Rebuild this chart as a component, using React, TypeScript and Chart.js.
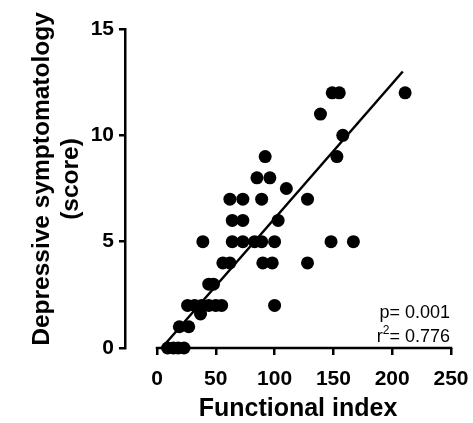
import React, { useEffect, useRef } from "react";
import { Chart, registerables } from "chart.js";

Chart.register(...registerables);

// Scatter data: functional index (x) vs depressive symptomatology score (y)
const functionalIndex = [
  9, 14, 18, 23,
  19, 27,
  37,
  26, 32, 38, 44, 50, 55, 100,
  44, 48,
  56, 62, 90, 98, 128,
  39, 64, 73, 83, 89, 100, 148, 167,
  64, 73, 103,
  62, 73, 89, 128,
  110,
  85, 96,
  92, 153,
  158,
  139,
  149, 155, 211,
];
const depressiveScore = [
  0, 0, 0, 0,
  1, 1,
  1.6,
  2, 2, 2, 2, 2, 2, 2,
  3, 3,
  4, 4, 4, 4, 4,
  5, 5, 5, 5, 5, 5, 5, 5,
  6, 6, 6,
  7, 7, 7, 7,
  7.5,
  8, 8,
  9, 9,
  10,
  11,
  12, 12, 12,
];

// Regression line end points
const fitX = [4, 209];
const fitY = [0, 13];

const xTicks = [0, 50, 100, 150, 200, 250];
const yTicks = [0, 5, 10, 15];
const xTitle = "Functional index";
const yTitle = ["Depressive symptomatology", "(score)"];
const pText = "p= 0.001";
const r2Value = "= 0.776";

const FONT = '"Liberation Sans", Arial, Helvetica, sans-serif';

export default function App() {
  const ref = useRef<HTMLCanvasElement>(null);

  useEffect(() => {
    const canvas = ref.current;
    if (!canvas) return;

    const prismPlugin = {
      id: "prismAxes",
      afterDraw(chart: any) {
        const ctx = chart.ctx as CanvasRenderingContext2D;
        const xs = chart.scales.x;
        const ys = chart.scales.y;
        ctx.save();
        // x axis line (offset style: starts at 0)
        ctx.strokeStyle = "#000";
        ctx.lineWidth = 2.5;
        const yb = ys.getPixelForValue(0);
        ctx.beginPath();
        ctx.moveTo(xs.getPixelForValue(xTicks[0]) - 1.25, yb);
        ctx.lineTo(xs.getPixelForValue(xTicks[xTicks.length - 1]) + 1.25, yb);
        ctx.stroke();

        ctx.fillStyle = "#000";
        // x title
        ctx.font = `bold 25px ${FONT}`;
        ctx.textAlign = "center";
        ctx.textBaseline = "alphabetic";
        ctx.fillText(xTitle, 298, 416);

        // y title (two lines, rotated)
        ctx.font = `bold 24.5px ${FONT}`;
        ctx.save();
        ctx.translate(49, 179);
        ctx.rotate(-Math.PI / 2);
        ctx.fillText(yTitle[0], 0, 0);
        ctx.restore();
        ctx.save();
        ctx.translate(78, 179);
        ctx.rotate(-Math.PI / 2);
        ctx.fillText(yTitle[1], 0, 0);
        ctx.restore();

        // stats text
        const right = 450;
        ctx.textAlign = "right";
        ctx.font = `18px ${FONT}`;
        ctx.fillText(pText, right, 318);
        const w1 = ctx.measureText(r2Value).width;
        ctx.fillText(r2Value, right, 342);
        ctx.font = `12px ${FONT}`;
        const w2 = ctx.measureText("2").width;
        ctx.fillText("2", right - w1, 334);
        ctx.font = `18px ${FONT}`;
        ctx.fillText("r", right - w1 - w2, 342);
        ctx.restore();
      },
    };

    const chart = new Chart(canvas, {
      type: "scatter",
      data: {
        datasets: [
          {
            label: "data",
            data: functionalIndex.map((x, i) => ({ x, y: depressiveScore[i] })),
            backgroundColor: "#000",
            borderColor: "#000",
            borderWidth: 0,
            pointRadius: 6.5,
            clip: false,
          } as any,
          {
            label: "fit",
            data: fitX.map((x, i) => ({ x, y: fitY[i] })),
            showLine: true,
            borderColor: "#000",
            borderWidth: 2.5,
            pointRadius: 0,
            clip: false,
          } as any,
        ],
      },
      options: {
        animation: false,
        responsive: false,
        devicePixelRatio: 1,
        layout: { padding: { left: 0, right: 22, top: 29, bottom: 0 } },
        plugins: {
          legend: { display: false },
          tooltip: { enabled: false },
        },
        scales: {
          x: {
            type: "linear",
            min: -27.2,
            max: 250,
            afterFit: (s: any) => {
              s.height = 75;
              s.paddingLeft = 0;
              s.paddingRight = 0;
            },
            afterBuildTicks: (s: any) => {
              s.ticks = xTicks.map((v) => ({ value: v }));
            },
            border: { display: false },
            grid: {
              drawOnChartArea: false,
              drawTicks: true,
              tickLength: 7,
              lineWidth: 2.5,
              color: "#000",
            },
            ticks: {
              color: "#000",
              padding: 12,
              maxRotation: 0,
              autoSkip: false,
              font: { family: FONT, size: 21, weight: "bold" },
            },
          },
          y: {
            type: "linear",
            min: 0,
            max: 15,
            afterFit: (s: any) => {
              s.width = 125;
              s.paddingTop = 0;
              s.paddingBottom = 0;
            },
            afterBuildTicks: (s: any) => {
              s.ticks = yTicks.map((v) => ({ value: v }));
            },
            border: { display: true, color: "#000", width: 2.5 },
            grid: {
              drawOnChartArea: false,
              drawTicks: true,
              tickLength: 6,
              lineWidth: 2.5,
              color: "#000",
            },
            ticks: {
              color: "#000",
              padding: 5,
              font: { family: FONT, size: 21, weight: "bold" },
            },
          },
        },
      },
      plugins: [prismPlugin],
    } as any);

    return () => chart.destroy();
  }, []);

  return (
    <div style={{ position: "fixed", left: 0, top: 0, width: 473, height: 423, background: "#fff" }}>
      <canvas ref={ref} width={473} height={423} style={{ display: "block" }} />
    </div>
  );
}
